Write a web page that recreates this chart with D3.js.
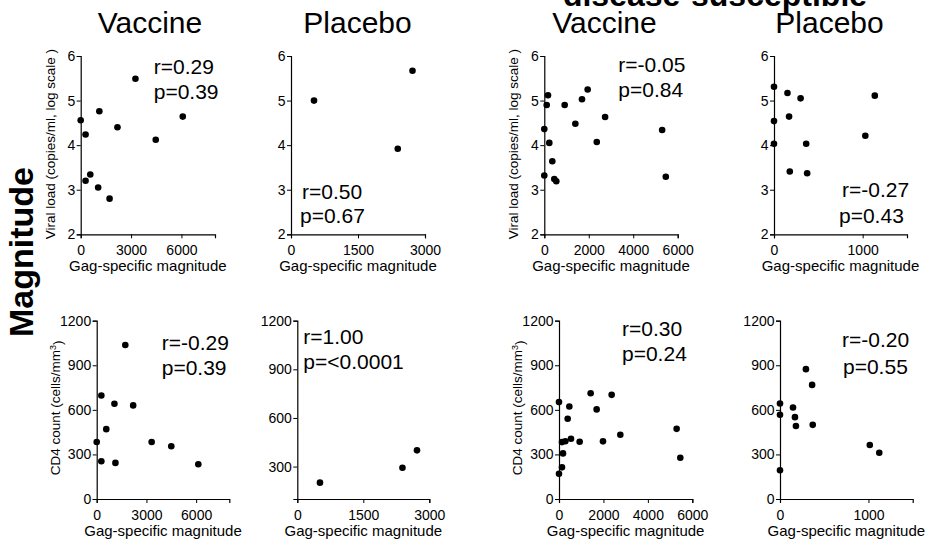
<!DOCTYPE html>
<html>
<head>
<meta charset="utf-8">
<script src="https://cdn.jsdelivr.net/npm/d3@7"></script>
<style>
  body { margin: 0; background: #fff; }
  svg text { font-family: "Liberation Sans", Arial, sans-serif; fill: #000; }
</style>
</head>
<body>
<div id="chart"></div>
<script>
// ---- data ----
// left block
var leftVacMagTop   = [0, 290, 290, 570, 1040, 1110, 1720, 2190, 3260, 4470, 6080];
var leftVacViral    = [4.56, 4.24, 3.20, 3.34, 3.05, 4.76, 2.80, 4.40, 5.49, 4.12, 4.64];
var leftVacMagBot   = [0, 280, 280, 577, 1070, 1130, 1726, 2200, 3315, 4500, 6130];
var leftVacCD4      = [384, 697, 254, 470, 641, 243, 1036, 630, 384, 355, 234];
var leftPlaMag      = [515, 2390, 2720];
var leftPlaViral    = [5.00, 3.92, 5.67];
var leftPlaCD4      = [201, 293, 400];
// right block (disease-susceptible)
var rightVacMagTop  = [0, 0, 108, 166, 225, 360, 450, 540, 917, 1396, 1695, 1950, 2360, 2735, 5300, 5465];
var rightVacViral   = [4.36, 3.32, 4.90, 5.12, 4.05, 3.64, 3.24, 3.19, 4.90, 4.48, 5.03, 5.25, 4.07, 4.63, 4.34, 3.29];
var rightVacMagBot  = [0, 0, 135, 180, 135, 285, 390, 465, 540, 930, 1425, 1695, 1980, 2370, 2760, 5295, 5460];
var rightVacCD4     = [652, 170, 213, 307, 383, 389, 540, 623, 405, 385, 712, 603, 388, 701, 432, 472, 278];
var rightPlaMagTop  = [0, 0, 0, 152, 170, 178, 300, 363, 374, 1030, 1137];
var rightPlaViral   = [5.31, 4.54, 4.03, 5.17, 4.64, 3.41, 5.05, 4.03, 3.37, 4.21, 5.11];
var rightPlaMagBot  = [0, 0, 0, 147, 169, 180, 293, 363, 370, 1015, 1122];
var rightPlaCD4     = [643, 567, 193, 616, 551, 491, 874, 768, 499, 363, 311];

// stats text
var statR = ["r=0.29", "r=0.50", "r=-0.05", "r=-0.27", "r=-0.29", "r=1.00", "r=0.30", "r=-0.20"];
var statP = ["p=0.39", "p=0.67", "p=0.84", "p=0.43", "p=0.39", "p=<0.0001", "p=0.24", "p=0.55"];

// axis ticks
var viralTicks = [2, 3, 4, 5, 6];
var cd4Ticks = [0, 300, 600, 900, 1200];
var cd4TicksPla = [300, 600, 900, 1200];

var xLabel = "Gag-specific magnitude";
var viralLabel = "Viral load (copies/ml, log scale )";

var W = 926, H = 539;
var svg = d3.select("#chart").append("svg")
  .attr("width", W).attr("height", H);

// panel layout (pixels)
var topY = 56, botY = 320.7, ph = 178.3;
var panels = [
  {x0: 80.7,  x1: 215,   y0: topY, xs: leftVacMagTop,  ys: leftVacViral,  xd: [0, 8000], xt: [0, 3000, 6000],       yd: [2, 6],      yt: viralTicks,  ylab: "vl",  si: 0, r: [73, 18],   p: [73, 43]},
  {x0: 291,   x1: 425,   y0: topY, xs: leftPlaMag,     ys: leftPlaViral,  xd: [0, 3000], xt: [0, 1500, 3000],       yd: [2, 6],      yt: viralTicks,  ylab: null,  si: 1, r: [11, 143],  p: [9, 167]},
  {x0: 544.3, x1: 677.7, y0: topY, xs: rightVacMagTop, ys: rightVacViral, xd: [0, 6000], xt: [0, 2000, 4000, 6000], yd: [2, 6],      yt: viralTicks,  ylab: "vl",  si: 2, r: [74, 16],   p: [74, 41]},
  {x0: 774,   x1: 907,   y0: topY, xs: rightPlaMagTop, ys: rightPlaViral, xd: [0, 1500], xt: [0, 1000],             yd: [2, 6],      yt: viralTicks,  ylab: null,  si: 3, r: [68, 141],  p: [65, 167]},
  {x0: 96.7,  x1: 229.3, y0: botY, xs: leftVacMagBot,  ys: leftVacCD4,    xd: [0, 8000], xt: [0, 3000, 6000],       yd: [0, 1200],   yt: cd4Ticks,    ylab: "cd4", si: 4, r: [65, 29],   p: [65, 54]},
  {x0: 297.3, x1: 429.3, y0: botY, xs: leftPlaMag,     ys: leftPlaCD4,    xd: [0, 3000], xt: [0, 1500, 3000],       yd: [100, 1200], yt: cd4TicksPla, ylab: null,  si: 5, r: [6, 23],    p: [6, 48]},
  {x0: 559,   x1: 692.3, y0: botY, xs: rightVacMagBot, ys: rightVacCD4,   xd: [0, 6000], xt: [0, 2000, 4000, 6000], yd: [0, 1200],   yt: cd4Ticks,    ylab: "cd4", si: 6, r: [63, 15],   p: [63, 40]},
  {x0: 780,   x1: 912.7, y0: botY, xs: rightPlaMagBot, ys: rightPlaCD4,   xd: [0, 1500], xt: [0, 1000],             yd: [0, 1200],   yt: cd4Ticks,    ylab: null,  si: 7, r: [62, 26],   p: [63, 53]}
];

panels.forEach(function(pn){
  var w = pn.x1 - pn.x0;
  var g = svg.append("g").attr("transform", "translate(" + pn.x0 + "," + pn.y0 + ")");

  var x = d3.scaleLinear().domain(pn.xd).range([0, w]);
  var y = d3.scaleLinear().domain(pn.yd).range([ph, 0]);

  var xAxis = g.append("g")
    .attr("transform", "translate(0," + ph + ")")
    .call(d3.axisBottom(x).tickValues(pn.xt).tickFormat(d3.format("d")).tickSizeOuter(0).tickSize(4).tickPadding(7));
  var yAxis = g.append("g")
    .call(d3.axisLeft(y).tickValues(pn.yt).tickFormat(d3.format("d")).tickSizeOuter(0).tickSize(4).tickPadding(1.5));

  [xAxis, yAxis].forEach(function(a){
    a.select(".domain").attr("stroke", "#000").attr("stroke-width", 1.2);
    a.selectAll(".tick line").attr("stroke", "#000").attr("stroke-width", 1);
    a.selectAll(".tick text").style("font-size", "14px").attr("fill", "#111")
      .style("font-family", '"Liberation Sans", Arial, sans-serif');
  });

  // x label
  g.append("text")
    .attr("x", w / 2).attr("y", ph + 37)
    .attr("text-anchor", "middle")
    .style("font-size", "15px")
    .text(xLabel);

  // y label
  if (pn.ylab === "vl") {
    g.append("text")
      .attr("transform", "translate(-26," + (ph / 2 - 1) + ") rotate(-90)")
      .attr("text-anchor", "middle")
      .style("font-size", "13.5px")
      .text(viralLabel);
  } else if (pn.ylab === "cd4") {
    var t = g.append("text")
      .attr("transform", "translate(-37," + (ph / 2 - 2) + ") rotate(-90)")
      .attr("text-anchor", "middle")
      .style("font-size", "13.5px");
    t.append("tspan").text("CD4 count (cells/mm");
    t.append("tspan").attr("dy", "-0.45em").style("font-size", "9px").text("3");
    t.append("tspan").attr("dy", "0.45em").text(")");
  }

  // points
  var pts = pn.xs.map(function(v, i){ return {x: v, y: pn.ys[i]}; });
  g.selectAll(".dot")
    .data(pts)
    .enter()
    .append("circle")
    .attr("class", "dot")
    .attr("cx", function(d){ return x(d.x); })
    .attr("cy", function(d){ return y(d.y); })
    .attr("r", 3.3)
    .style("fill", "#000");

  // stats
  g.append("text").attr("x", pn.r[0]).attr("y", pn.r[1])
    .style("font-size", "21px").text(statR[pn.si]);
  g.append("text").attr("x", pn.p[0]).attr("y", pn.p[1])
    .style("font-size", "21px").text(statP[pn.si]);
});

// column titles
var titles = [
  {t: "Vaccine", x: 150},
  {t: "Placebo", x: 357.5},
  {t: "Vaccine", x: 604.5},
  {t: "Placebo", x: 829.5}
];
svg.selectAll(".title")
  .data(titles)
  .enter()
  .append("text")
  .attr("class", "title")
  .attr("x", function(d){ return d.x; })
  .attr("y", 33)
  .attr("text-anchor", "middle")
  .style("font-size", "30px")
  .text(function(d){ return d.t; });

// block header (cut at the top edge)
svg.append("text")
  .attr("x", 715).attr("y", 6)
  .attr("text-anchor", "middle")
  .style("font-size", "32px")
  .style("font-weight", "bold")
  .text("disease-susceptible");

// row header
svg.append("text")
  .attr("transform", "translate(33,252) rotate(-90)")
  .attr("text-anchor", "middle")
  .style("font-size", "34px")
  .style("font-weight", "bold")
  .text("Magnitude");
</script>
</body>
</html>
